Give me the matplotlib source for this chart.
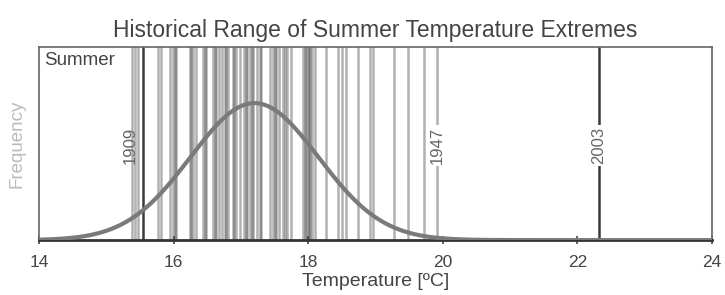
import numpy as np
import matplotlib
matplotlib.use("Agg")
import matplotlib.pyplot as plt

plt.rcParams['font.family'] = ['Liberation Sans', 'DejaVu Sans']

# Summer mean temperatures (one vertical line per year)
summer_temps = [15.38, 15.43, 15.47, 15.77, 15.81, 15.95, 15.99, 16.04,
                16.24, 16.29, 16.33, 16.44, 16.48, 16.59, 16.63, 16.67, 16.72,
                16.76, 16.81, 16.88, 16.93, 16.99, 17.05, 17.09,
                17.14, 17.18, 17.24, 17.30, 17.43, 17.48, 17.52, 17.57, 17.63,
                17.69, 17.74, 17.92, 17.97, 18.01, 18.06, 18.10,
                18.26, 18.44, 18.50, 18.56, 18.74, 18.92, 18.96, 19.27, 19.48,
                19.72,
                16.26, 16.61, 16.78, 16.90, 17.07, 17.16, 17.50, 17.65,
                17.95, 17.99, 18.03, 16.02, 16.46, 17.28]
extreme_years = ["1909", "1947", "2003"]
extreme_temps = [15.55, 19.91, 22.32]
extreme_shade = ['#3a3a3a', '#b0b0b0', '#3a3a3a']

fit_mean = 17.2
fit_std = 0.95

fig = plt.figure(figsize=(7.25, 2.95), dpi=100)
ax = fig.add_axes([0.054, 0.186, 0.928, 0.655])

for t in summer_temps:
    ax.axvline(t, color='#3c3c3c', lw=1.8, alpha=0.4, zorder=1)
for t, c in zip(extreme_temps, extreme_shade):
    ax.axvline(t, color=c, lw=1.8, zorder=2)

x = np.linspace(14, 24, 500)
y = np.exp(-0.5 * ((x - fit_mean) / fit_std) ** 2)
ax.plot(x, y, color='#7a7a7a', lw=3, zorder=3)

ax.set_xlim(14, 24)
ax.set_ylim(0, 1.41)
ax.set_yticks([])
ax.set_xticks([14, 16, 18, 20, 22, 24])
ax.tick_params(axis='x', direction='inout', length=6, width=1.2,
               colors='#444444', labelsize=12.5, pad=8)

for yr, t in zip(extreme_years, extreme_temps):
    if yr == "1909":
        ax.text(t - 0.19, 0.69, yr, rotation=90, ha='center', va='center',
                fontsize=12, color='#666666', zorder=4)
    else:
        ax.text(t, 0.69, yr, rotation=90, ha='center', va='center',
                fontsize=12, color='#666666', zorder=4,
                bbox=dict(facecolor='white', edgecolor='none', pad=1.5))

ax.text(0.008, 0.93, "Summer", transform=ax.transAxes, fontsize=13.5,
        color='#444444', ha='left', va='center')

for s in ['top', 'left', 'right']:
    ax.spines[s].set_color('#666666')
    ax.spines[s].set_linewidth(1.2)
ax.spines['bottom'].set_color('#333333')
ax.spines['bottom'].set_linewidth(2)

ax.set_xlabel("Temperature [ºC]", fontsize=14, color='#444444', labelpad=2)
ax.set_ylabel("Frequency", fontsize=13.5, color='#bbbbbb', labelpad=10)
ax.set_title("Historical Range of Summer Temperature Extremes", fontsize=16.5,
             color='#444444', pad=7)

fig.savefig("out.png", dpi=100, facecolor='white')
